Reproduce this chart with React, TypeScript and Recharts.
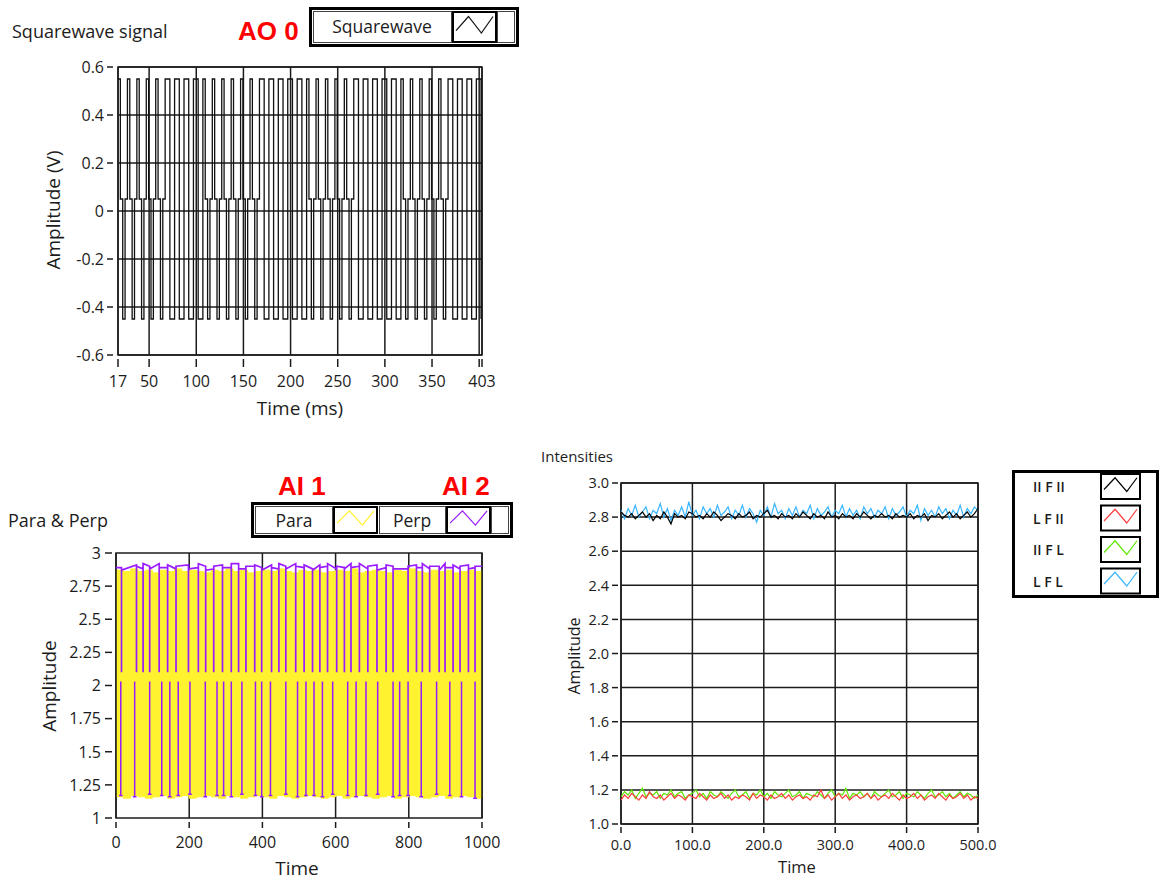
import {
  LineChart,
  ComposedChart,
  Line,
  Area,
  XAxis,
  YAxis,
  CartesianGrid,
  ReferenceArea,
} from 'recharts'

const FONT = "'Open Sans', 'Noto Sans', 'DejaVu Sans', sans-serif"
const INK = '#1c1c1c'

// ---- AO 0 squarewave: one char per 2.5 ms sample, starting at 17 ms
// H = high, M = middle step, L = low
const SQ_T0 = 17
const SQ_DT = 2.5
const SQ_LEVELS: Record<string, number> = { H: 0.55, M: 0.05, L: -0.45 }
const SQ_SAMPLES = [
  'HMLMHMLMHMLMHMLMHMLM',
  'HHLLHHLLHHLLHHLL',
  'HMLMHMLMHMLMHMLMHMLMHMLM',
  'HHLLHHLLHHLLHHLLHHLL',
  'HMLMHMLMHMLMHMLMHMLM',
  'HHLLHHLLHHLLHHLLHHLL',
  'HMLMHMLMHMLMHMLMHMLM',
  'HHLLHHLLHHLLHHL',
].join('')
const SQ_X_TICKS = [17, 50, 100, 150, 200, 250, 300, 350, 400, 403]
const SQ_X_LABELS = ['17', '50', '100', '150', '200', '250', '300', '350', '', '403']
const SQ_Y_TICKS = [-0.6, -0.4, -0.2, 0, 0.2, 0.4, 0.6]
const SQ_Y_LABELS = ['-0.6', '-0.4', '-0.2', '0', '0.2', '0.4', '0.6']

// ---- AI 1 / AI 2: Para is a dense signal, kept as its [min, max] envelope every 20 samples
const PARA_TIME = [
  0, 20, 40, 60, 80, 100, 120, 140, 160, 180, 200, 220, 240, 260, 280, 300, 320, 340, 360, 380,
  400, 420, 440, 460, 480, 500, 520, 540, 560, 580, 600, 620, 640, 660, 680, 700, 720, 740, 760,
  780, 800, 820, 840, 860, 880, 900, 920, 940, 960, 980, 1000,
]
const PARA_HIGH = [
  2.87, 2.86, 2.88, 2.86, 2.87, 2.85, 2.87, 2.86, 2.88, 2.86, 2.87, 2.86, 2.85, 2.87, 2.86, 2.88,
  2.86, 2.87, 2.85, 2.86, 2.87, 2.86, 2.88, 2.86, 2.85, 2.87, 2.86, 2.87, 2.85, 2.86, 2.87, 2.86,
  2.88, 2.85, 2.86, 2.87, 2.86, 2.85, 2.87, 2.86, 2.88, 2.86, 2.85, 2.87, 2.86, 2.87, 2.85, 2.86,
  2.87, 2.86, 2.88,
]
const PARA_LOW = [
  1.16, 1.15, 1.17, 1.16, 1.15, 1.16, 1.17, 1.15, 1.16, 1.17, 1.15, 1.16, 1.17, 1.16, 1.15, 1.17,
  1.16, 1.15, 1.16, 1.17, 1.16, 1.15, 1.17, 1.16, 1.15, 1.16, 1.17, 1.16, 1.15, 1.16, 1.17, 1.15,
  1.16, 1.17, 1.16, 1.15, 1.16, 1.17, 1.15, 1.16, 1.17, 1.16, 1.15, 1.16, 1.17, 1.15, 1.16, 1.17,
  1.16, 1.15, 1.16,
]
// Perp: upper level with drops to the middle, lower level with rises to the middle
const PERP_TOP_START = 2.89
const PERP_TOP_END = 2.9
const PERP_TOP_FLOOR = 2.1
const PERP_TOP_SPIKES = [
  15, 56, 74, 92, 118, 141, 164, 198, 225, 245, 267, 291, 315, 335, 355, 379, 398, 425, 445, 464,
  491, 514, 537, 557, 578, 603, 624, 642, 665, 688, 713, 738, 757, 798, 821, 837, 857, 883, 899,
  921, 940, 963, 981,
]
// level just before and just after each drop
const PERP_TOP_BEFORE = [
  2.89, 2.91, 2.88, 2.9, 2.92, 2.89, 2.88, 2.91, 2.89, 2.9, 2.88, 2.91, 2.89, 2.92, 2.88, 2.9,
  2.89, 2.91, 2.88, 2.9, 2.92, 2.89, 2.88, 2.91, 2.9, 2.88, 2.89, 2.92, 2.9, 2.88, 2.91, 2.89, 2.9,
  2.88, 2.91, 2.89, 2.88, 2.9, 2.92, 2.89, 2.88, 2.91, 2.89,
]
const PERP_TOP_AFTER = [
  2.87, 2.9, 2.92, 2.88, 2.89, 2.91, 2.9, 2.88, 2.92, 2.87, 2.9, 2.89, 2.92, 2.88, 2.9, 2.91, 2.87,
  2.89, 2.92, 2.88, 2.9, 2.91, 2.87, 2.89, 2.92, 2.9, 2.88, 2.89, 2.92, 2.9, 2.87, 2.91, 2.88, 2.9,
  2.89, 2.92, 2.9, 2.87, 2.89, 2.91, 2.9, 2.88, 2.9,
]
const PERP_BOTTOM_CEIL = 2.03
const PERP_BOTTOM_SPIKES = [
  13, 51, 92, 125, 147, 170, 202, 244, 276, 294, 315, 344, 381, 398, 422, 464, 496, 519, 541, 564,
  592, 633, 656, 683, 715, 757, 775, 798, 834, 876, 912, 944, 981,
]
const PERP_BOTTOM_LEVELS = [
  1.17, 1.16, 1.18, 1.17, 1.16, 1.17, 1.18, 1.16, 1.17, 1.17, 1.16, 1.18, 1.17, 1.16, 1.17, 1.18,
  1.16, 1.17, 1.17, 1.16, 1.18, 1.17, 1.16, 1.17, 1.18, 1.16, 1.17, 1.17, 1.16, 1.18, 1.17, 1.16,
  1.15,
]
const PP_X_TICKS = [0, 200, 400, 600, 800, 1000]
const PP_Y_TICKS = [1, 1.25, 1.5, 1.75, 2, 2.25, 2.5, 2.75, 3]
const PP_Y_LABELS = ['1', '1.25', '1.5', '1.75', '2', '2.25', '2.5', '2.75', '3']

// ---- Intensities, one value every 5 time units from 0 to 500
const INT_DT = 5
const PFP = [
  2.83, 2.81, 2.8, 2.82, 2.79, 2.81, 2.83, 2.8, 2.82, 2.78, 2.81, 2.79, 2.83, 2.8, 2.76, 2.82, 2.8,
  2.81, 2.79, 2.83, 2.82, 2.8, 2.81, 2.79, 2.82, 2.8, 2.83, 2.81, 2.78, 2.8, 2.82, 2.81, 2.79, 2.82,
  2.8, 2.81, 2.83, 2.79, 2.81, 2.8, 2.82, 2.84, 2.8, 2.81, 2.79, 2.82, 2.8, 2.81, 2.79, 2.82, 2.8,
  2.83, 2.81, 2.79, 2.82, 2.8, 2.81, 2.79, 2.83, 2.8, 2.81, 2.79, 2.82, 2.8, 2.81, 2.79, 2.82, 2.8,
  2.83, 2.81, 2.79, 2.81, 2.8, 2.82, 2.8, 2.81, 2.79, 2.82, 2.8, 2.81, 2.8, 2.82, 2.79, 2.81, 2.8,
  2.82, 2.78, 2.81, 2.8, 2.82, 2.79, 2.81, 2.83, 2.8, 2.82, 2.79, 2.81, 2.83, 2.8, 2.82, 2.85,
]
const LFP = [
  1.14, 1.17, 1.15, 1.18, 1.16, 1.14, 1.17, 1.15, 1.19, 1.16, 1.15, 1.17, 1.14, 1.16, 1.18, 1.15,
  1.17, 1.16, 1.14, 1.17, 1.16, 1.15, 1.18, 1.16, 1.14, 1.17, 1.15, 1.16, 1.18, 1.15, 1.17, 1.14,
  1.16, 1.15, 1.17, 1.16, 1.14, 1.18, 1.15, 1.17, 1.16, 1.14, 1.17, 1.15, 1.16, 1.18, 1.15, 1.17,
  1.14, 1.16, 1.17, 1.15, 1.16, 1.14, 1.17, 1.16, 1.2, 1.15, 1.17, 1.14, 1.16, 1.18, 1.15, 1.17,
  1.14, 1.16, 1.17, 1.15, 1.16, 1.18, 1.15, 1.17, 1.14, 1.16, 1.17, 1.15, 1.18, 1.16, 1.14, 1.17,
  1.15, 1.16, 1.18, 1.15, 1.17, 1.14, 1.16, 1.17, 1.15, 1.18, 1.16, 1.14, 1.17, 1.15, 1.16, 1.18,
  1.15, 1.17, 1.14, 1.16, 1.15,
]
const PFL = [
  1.16, 1.19, 1.17, 1.2, 1.15, 1.18, 1.21, 1.16, 1.18, 1.17, 1.19, 1.15, 1.18, 1.17, 1.2, 1.16,
  1.18, 1.19, 1.15, 1.17, 1.18, 1.2, 1.16, 1.18, 1.15, 1.19, 1.17, 1.16, 1.19, 1.17, 1.15, 1.18,
  1.2, 1.16, 1.17, 1.19, 1.15, 1.18, 1.17, 1.2, 1.16, 1.18, 1.15, 1.19, 1.17, 1.16, 1.18, 1.2,
  1.16, 1.17, 1.19, 1.15, 1.18, 1.17, 1.16, 1.19, 1.17, 1.15, 1.18, 1.2, 1.16, 1.18, 1.17, 1.21,
  1.15, 1.18, 1.17, 1.19, 1.16, 1.18, 1.15, 1.19, 1.17, 1.16, 1.18, 1.2, 1.16, 1.17, 1.19, 1.15,
  1.18, 1.17, 1.16, 1.19, 1.17, 1.15, 1.18, 1.2, 1.16, 1.17, 1.19, 1.16, 1.18, 1.15, 1.17, 1.19,
  1.16, 1.18, 1.17, 1.15, 1.17,
]
const LFL = [
  2.84, 2.79, 2.85, 2.81, 2.87, 2.8, 2.83, 2.86, 2.79, 2.84, 2.82, 2.88, 2.8, 2.85, 2.78, 2.84,
  2.81, 2.86, 2.8, 2.89, 2.81, 2.84, 2.79, 2.86, 2.82, 2.85, 2.8, 2.87, 2.81, 2.83, 2.86, 2.79,
  2.84, 2.81, 2.87, 2.8, 2.85, 2.82, 2.77, 2.84, 2.81, 2.86, 2.8, 2.88, 2.82, 2.84, 2.79, 2.85,
  2.81, 2.86, 2.8, 2.84, 2.82, 2.87, 2.79, 2.85, 2.81, 2.83, 2.86, 2.8, 2.84, 2.82, 2.87, 2.8,
  2.85, 2.81, 2.84, 2.79, 2.86, 2.82, 2.85, 2.8, 2.84, 2.82, 2.86, 2.79, 2.85, 2.81, 2.83, 2.86,
  2.8, 2.84, 2.82, 2.87, 2.78, 2.85, 2.81, 2.84, 2.8, 2.86, 2.82, 2.85, 2.79, 2.84, 2.81, 2.87,
  2.8, 2.85, 2.82, 2.86, 2.84,
]
const INT_X_TICKS = [0, 100, 200, 300, 400, 500]
const INT_Y_TICKS = [1, 1.2, 1.4, 1.6, 1.8, 2, 2.2, 2.4, 2.6, 2.8, 3]
const INT_NAMES = ['II F II', 'L F II', 'II F L', 'L F L']

const COLORS = {
  square: '#111111',
  para: '#fff22e',
  perp: '#9a1cff',
  pfp: '#000000',
  lfp: '#ff3c3c',
  pfl: '#5ee800',
  lfl: '#38b6ff',
}

// tables built from the arrays above
const squareData = SQ_SAMPLES.split('').map((c, i) => ({ t: SQ_T0 + i * SQ_DT, v: SQ_LEVELS[c] }))

const paraData = PARA_TIME.map((t, i) => ({ t, para: [PARA_LOW[i], PARA_HIGH[i]] }))

const perpTopData: Array<{ t: number; v: number }> = [{ t: 0, v: PERP_TOP_START }]
PERP_TOP_SPIKES.forEach((t, i) => {
  perpTopData.push(
    { t, v: PERP_TOP_BEFORE[i] },
    { t, v: PERP_TOP_FLOOR },
    { t, v: PERP_TOP_AFTER[i] },
  )
})
perpTopData.push({ t: 1000, v: PERP_TOP_END })

const perpBottomData: Array<{ t: number; v: number | null }> = []
PERP_BOTTOM_SPIKES.forEach((t, i) => {
  const lv = PERP_BOTTOM_LEVELS[i]
  perpBottomData.push(
    { t: t - 5, v: lv },
    { t, v: lv },
    { t, v: PERP_BOTTOM_CEIL },
    { t, v: lv },
    { t: t + 5, v: lv },
    { t: t + 5, v: null },
  )
})

const intData = PFP.map((v, i) => ({ t: i * INT_DT, pfp: v, lfp: LFP[i], pfl: PFL[i], lfl: LFL[i] }))

// LabVIEW style ticks: short dash detached from the frame
const makeYTick =
  (labels: (v: number) => string, size: number, d0: number, d1: number, gap: number) =>
  (p: any) => (
    <g>
      <line x1={p.x - d0} x2={p.x - d1} y1={p.y} y2={p.y} stroke={INK} strokeWidth={1.5} />
      <text
        x={p.x - gap}
        y={p.y}
        dy="0.36em"
        textAnchor="end"
        fontSize={size}
        fontFamily={FONT}
        fill={INK}
      >
        {labels(p.payload.value)}
      </text>
    </g>
  )

const makeXTick =
  (labels: (v: number) => string, size: number, d0: number, d1: number, base: number) =>
  (p: any) => (
    <g>
      <line x1={p.x} x2={p.x} y1={p.y + d0} y2={p.y + d1} stroke={INK} strokeWidth={1.5} />
      <text x={p.x} y={p.y + base} textAnchor="middle" fontSize={size} fontFamily={FONT} fill={INK}>
        {labels(p.payload.value)}
      </text>
    </g>
  )

const sqXLabel = (v: number) => SQ_X_LABELS[SQ_X_TICKS.indexOf(v)] ?? ''
const sqYLabel = (v: number) => SQ_Y_LABELS[SQ_Y_TICKS.indexOf(v)] ?? ''
const ppYLabel = (v: number) => PP_Y_LABELS[PP_Y_TICKS.indexOf(v)] ?? ''

function LegendIcon({ x, y, w, h, color }: { x: number; y: number; w: number; h: number; color: string }) {
  const pts = [
    [3, h * 0.62],
    [w * 0.36, h * 0.15],
    [w * 0.66, h * 0.7],
    [w - 3, h * 0.15],
  ]
    .map(([a, b]) => `${x + a},${y + b}`)
    .join(' ')
  return (
    <g>
      <rect x={x} y={y} width={w} height={h} fill="#fff" stroke="#000" strokeWidth={2} />
      <polyline points={pts} fill="none" stroke={color} strokeWidth={1.2} />
    </g>
  )
}

function Overlay() {
  const red = { fontFamily: "'Liberation Sans', Arial, sans-serif", fontWeight: 700, fontSize: 26, fill: '#ff0000' }
  const txt = { fontFamily: FONT, fill: INK }
  const intColors = [COLORS.pfp, COLORS.lfp, COLORS.pfl, COLORS.lfl]
  return (
    <svg
      width={1160}
      height={882}
      style={{ position: 'absolute', left: 0, top: 0, pointerEvents: 'none' }}
    >
      {/* squarewave */}
      <text x={12} y={38} fontSize={18} {...txt}>Squarewave signal</text>
      <text x={238} y={40} {...red}>AO 0</text>
      <rect x={310.5} y={8.5} width={207} height={37} fill="#fff" stroke="#000" strokeWidth={3} />
      <rect x={313.5} y={11.5} width={138} height={31} fill="#fff" stroke="#444" strokeWidth={1} />
      <text x={382} y={33} textAnchor="middle" fontSize={17.5} {...txt}>Squarewave</text>
      <LegendIcon x={453} y={12} w={43} h={30} color={COLORS.square} />
      <rect x={497.5} y={11.5} width={17} height={31} fill="#fff" stroke="#444" strokeWidth={1} />
      <text transform="translate(60 210) rotate(-90)" textAnchor="middle" fontSize={19} {...txt}>
        Amplitude (V)
      </text>
      <text x={300} y={415} textAnchor="middle" fontSize={19} {...txt}>Time (ms)</text>

      {/* para & perp */}
      <text x={8} y={527} fontSize={18} {...txt}>Para &amp; Perp</text>
      <text x={278} y={495} {...red}>AI 1</text>
      <text x={442} y={495} {...red}>AI 2</text>
      <rect x={252.5} y={503.5} width={259} height={33} fill="#fff" stroke="#000" strokeWidth={3} />
      <rect x={255.5} y={506.5} width={77} height={27} fill="#fff" stroke="#444" strokeWidth={1} />
      <text x={294} y={527} textAnchor="middle" fontSize={17.5} {...txt}>Para</text>
      <LegendIcon x={334} y={507} w={43} h={26} color={COLORS.para} />
      <rect x={379.5} y={506.5} width={66} height={27} fill="#fff" stroke="#444" strokeWidth={1} />
      <text x={412} y={527} textAnchor="middle" fontSize={17.5} {...txt}>Perp</text>
      <LegendIcon x={447} y={507} w={43} h={26} color={COLORS.perp} />
      <rect x={491.5} y={506.5} width={17} height={27} fill="#fff" stroke="#444" strokeWidth={1} />
      <text transform="translate(56 686) rotate(-90)" textAnchor="middle" fontSize={19} {...txt}>
        Amplitude
      </text>
      <text x={297} y={875} textAnchor="middle" fontSize={19} {...txt}>Time</text>

      {/* intensities */}
      <text x={541} y={462} fontSize={15} {...txt}>Intensities</text>
      <text transform="translate(580 656) rotate(-90)" textAnchor="middle" fontSize={16} {...txt}>
        Amplitude
      </text>
      <text x={797} y={873} textAnchor="middle" fontSize={16.5} {...txt}>Time</text>
      <rect x={1013.5} y={471.5} width={144} height={125} fill="#fff" stroke="#000" strokeWidth={3} />
      {INT_NAMES.map((name, i) => (
        <g key={name}>
          <text x={1033} y={492 + i * 31.5} fontSize={14} fontWeight={600} {...txt}>{name}</text>
          <LegendIcon x={1101} y={474 + i * 31.5} w={39} h={25} color={intColors[i]} />
        </g>
      ))}
    </svg>
  )
}

export default function App() {
  return (
    <div style={{ position: 'relative', width: 1160, height: 882, background: '#fff', overflow: 'hidden' }}>
      <style>{'body{margin:0}'}</style>

      <div style={{ position: 'absolute', left: 0, top: 0 }}>
        <LineChart width={500} height={400} data={squareData} margin={{ top: 67, right: 18, bottom: 15, left: 58 }}>
          <CartesianGrid stroke={INK} strokeWidth={1.5} />
          <XAxis
            dataKey="t"
            type="number"
            domain={[17, 403]}
            ticks={SQ_X_TICKS}
            interval={0}
            allowDataOverflow
            height={30}
            axisLine={false}
            tickLine={false}
            tickSize={0}
            tickMargin={0}
            tick={makeXTick(sqXLabel, 16, 4, 12, 32)}
          />
          <YAxis
            type="number"
            domain={[-0.6, 0.6]}
            ticks={SQ_Y_TICKS}
            interval={0}
            allowDataOverflow
            width={60}
            axisLine={false}
            tickLine={false}
            tickSize={0}
            tickMargin={0}
            tick={makeYTick(sqYLabel, 16, 11, 5, 14)}
          />
          <Line
            type="stepAfter"
            dataKey="v"
            stroke={COLORS.square}
            strokeWidth={1.3}
            dot={false}
            activeDot={false}
            isAnimationActive={false}
          />
          <ReferenceArea x1={17} x2={403} y1={-0.6} y2={0.6} fill="none" fillOpacity={0} stroke={INK} strokeWidth={1.5} />
        </LineChart>
      </div>

      <div style={{ position: 'absolute', left: 0, top: 540 }}>
        <ComposedChart width={500} height={320} data={paraData} margin={{ top: 13, right: 18, bottom: 12, left: 56 }}>
          <CartesianGrid stroke={INK} strokeWidth={1.5} horizontal={false} />
          <XAxis
            dataKey="t"
            type="number"
            domain={[0, 1000]}
            ticks={PP_X_TICKS}
            interval={0}
            allowDataOverflow
            height={30}
            axisLine={false}
            tickLine={false}
            tickSize={0}
            tickMargin={0}
            tick={makeXTick((v) => String(v), 16, 4, 10, 30)}
          />
          <YAxis
            type="number"
            domain={[1, 3]}
            ticks={PP_Y_TICKS}
            interval={0}
            allowDataOverflow
            width={60}
            axisLine={false}
            tickLine={false}
            tickSize={0}
            tickMargin={0}
            tick={makeYTick(ppYLabel, 16, 11, 4, 15)}
          />
          <Area
            type="stepAfter"
            dataKey="para"
            fill={COLORS.para}
            fillOpacity={1}
            stroke={COLORS.para}
            strokeWidth={1}
            dot={false}
            activeDot={false}
            isAnimationActive={false}
          />
          <Line
            data={perpTopData}
            type="linear"
            dataKey="v"
            stroke={COLORS.perp}
            strokeWidth={1.7}
            dot={false}
            activeDot={false}
            isAnimationActive={false}
          />
          <Line
            data={perpBottomData}
            type="linear"
            dataKey="v"
            stroke={COLORS.perp}
            strokeWidth={1.5}
            dot={false}
            activeDot={false}
            connectNulls={false}
            isAnimationActive={false}
          />
          <ReferenceArea x1={0} x2={1000} y1={1} y2={3} fill="none" fillOpacity={0} stroke={INK} strokeWidth={1.5} />
        </ComposedChart>
      </div>

      <div style={{ position: 'absolute', left: 560, top: 470 }}>
        <LineChart width={440} height={400} data={intData} margin={{ top: 13, right: 22, bottom: 6, left: 11 }}>
          <CartesianGrid stroke={INK} strokeWidth={1.5} />
          <XAxis
            dataKey="t"
            type="number"
            domain={[0, 500]}
            ticks={INT_X_TICKS}
            interval={0}
            allowDataOverflow
            height={40}
            axisLine={false}
            tickLine={false}
            tickSize={0}
            tickMargin={0}
            tick={makeXTick((v) => v.toFixed(1), 14.5, 3, 9, 26)}
          />
          <YAxis
            type="number"
            domain={[1, 3]}
            ticks={INT_Y_TICKS}
            interval={0}
            allowDataOverflow
            width={50}
            axisLine={false}
            tickLine={false}
            tickSize={0}
            tickMargin={0}
            tick={makeYTick((v) => v.toFixed(1), 14.5, 9, 3, 12)}
          />
          <Line type="linear" dataKey="lfl" name={INT_NAMES[3]} stroke={COLORS.lfl} strokeWidth={1.2} dot={false} activeDot={false} isAnimationActive={false} />
          <Line type="linear" dataKey="pfp" name={INT_NAMES[0]} stroke={COLORS.pfp} strokeWidth={1.2} dot={false} activeDot={false} isAnimationActive={false} />
          <Line type="linear" dataKey="pfl" name={INT_NAMES[2]} stroke={COLORS.pfl} strokeWidth={1.2} dot={false} activeDot={false} isAnimationActive={false} />
          <Line type="linear" dataKey="lfp" name={INT_NAMES[1]} stroke={COLORS.lfp} strokeWidth={1.2} dot={false} activeDot={false} isAnimationActive={false} />
          <ReferenceArea x1={0} x2={500} y1={1} y2={3} fill="none" fillOpacity={0} stroke={INK} strokeWidth={1.5} />
        </LineChart>
      </div>

      <Overlay />
    </div>
  )
}
